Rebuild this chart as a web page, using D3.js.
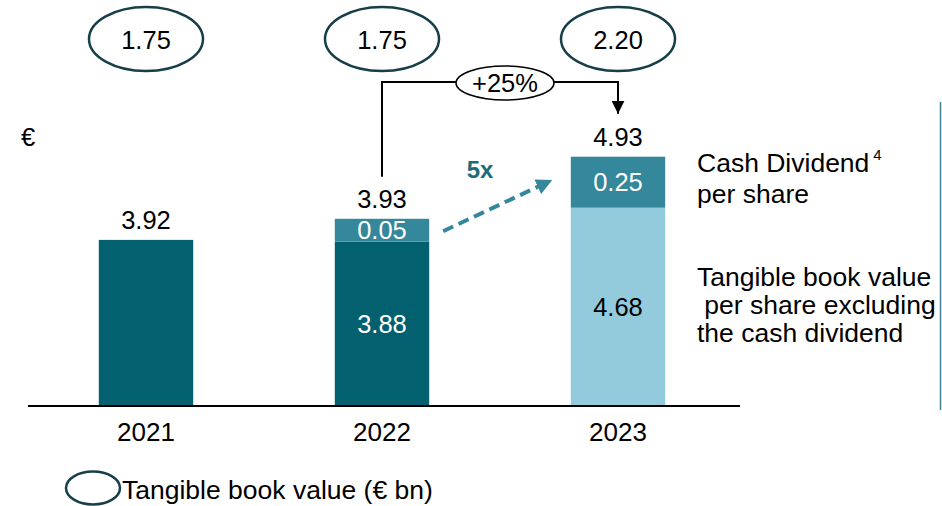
<!DOCTYPE html>
<html>
<head>
<meta charset="utf-8">
<script src="https://cdn.jsdelivr.net/npm/d3@7"></script>
<style>
  body { margin: 0; background: #fff; }
  text { font-family: "Liberation Sans", Arial, sans-serif; }
</style>
</head>
<body>
<div id="chart"></div>
<script>
// values
var years = ["2021", "2022", "2023"];
var tbvExDividend = [3.92, 3.88, 4.68];   // tangible book value per share excl. dividend
var cashDividend = [0, 0.05, 0.25];       // cash dividend per share
var totals = [3.92, 3.93, 4.93];
var tbvBillions = ["1.75", "1.75", "2.20"]; // tangible book value (€ bn)
var growthLabel = "+25%";
var dividendGrowth = "5x";

var width = 942, height = 506;
var dark = "#03606f", mid = "#35879b", light = "#93cbdc", ring = "#173f4a";
var numSize = "25.5px", legSize = "26.5px";

var svg = d3.select("#chart").append("svg")
    .attr("width", width).attr("height", height);

var defs = svg.append("defs");
defs.append("marker")
    .attr("id", "blackHead").attr("viewBox", "0 0 10 10")
    .attr("refX", 10).attr("refY", 5)
    .attr("markerWidth", 13).attr("markerHeight", 13)
    .attr("markerUnits", "userSpaceOnUse")
    .attr("orient", "auto")
    .append("path").attr("d", "M0,0L10,5L0,10Z").attr("fill", "#000");
defs.append("marker")
    .attr("id", "tealHead").attr("viewBox", "0 0 10 10")
    .attr("refX", 9).attr("refY", 5)
    .attr("markerWidth", 16).attr("markerHeight", 16)
    .attr("markerUnits", "userSpaceOnUse")
    .attr("orient", "auto")
    .append("path").attr("d", "M0,0L10,5L0,10Z").attr("fill", mid);

var baseY = 406;
var x = d3.scaleBand().domain(years).range([28, 736])
    .paddingInner(0.6).paddingOuter(0.3);
var y = d3.scaleLinear().domain([0, 4.72]).range([baseY, baseY - 200]);
// dividend slices are drawn enlarged on the slide
var yDiv = d3.scaleSqrt().domain([0, 0.25]).range([0, 51]);

var rows = years.map(function (yr, i) {
    var top0 = y(tbvExDividend[i]);
    return {
        year: yr, base: tbvExDividend[i], div: cashDividend[i], total: totals[i],
        bn: tbvBillions[i], baseTop: top0, divTop: top0 - yDiv(cashDividend[i]),
        baseColor: i < 2 ? dark : light, baseText: i < 2 ? "#fff" : "#000",
        stacked: cashDividend[i] > 0
    };
});
var cx = function (d) { return x(d.year) + x.bandwidth() / 2; };

// bars
var g = svg.append("g").selectAll("g").data(rows).join("g");
g.append("rect")
    .attr("x", d => x(d.year)).attr("width", x.bandwidth())
    .attr("y", d => d.baseTop).attr("height", d => baseY - d.baseTop)
    .attr("fill", d => d.baseColor);
g.filter(d => d.stacked).append("rect")
    .attr("x", d => x(d.year)).attr("width", x.bandwidth())
    .attr("y", d => d.divTop).attr("height", d => d.baseTop - d.divTop)
    .attr("fill", mid);

// value labels
g.filter(d => d.stacked).append("text")
    .attr("x", cx).attr("y", d => (d.baseTop + baseY) / 2 + 9)
    .attr("text-anchor", "middle").style("font-size", numSize)
    .attr("fill", d => d.baseText)
    .text(d => d.base.toFixed(2));
g.filter(d => d.stacked).append("text")
    .attr("x", cx).attr("y", d => (d.divTop + d.baseTop) / 2 + 9)
    .attr("text-anchor", "middle").style("font-size", numSize)
    .attr("fill", "#fff")
    .text(d => d.div.toFixed(2));
g.append("text")
    .attr("x", cx).attr("y", d => d.divTop - 11)
    .attr("text-anchor", "middle").style("font-size", numSize)
    .attr("fill", "#000")
    .text(d => d.total.toFixed(2));

// axis
svg.append("line")
    .attr("x1", 28).attr("x2", 740).attr("y1", baseY).attr("y2", baseY)
    .attr("stroke", "#000").attr("stroke-width", 2);
var xAxis = svg.append("g").attr("transform", "translate(0," + baseY + ")")
    .call(d3.axisBottom(x).tickSize(0).tickPadding(0));
xAxis.select(".domain").remove();
xAxis.selectAll("text").attr("dy", null).attr("y", 35)
    .style("font-size", "26px")
    .style("font-family", "'Liberation Sans', Arial, sans-serif").attr("fill", "#000");

// tangible book value rings
var rg = svg.append("g").selectAll("g").data(rows).join("g")
    .attr("transform", d => "translate(" + cx(d) + ",39)");
rg.append("ellipse").attr("rx", 57).attr("ry", 32)
    .attr("fill", "#fff").attr("stroke", ring).attr("stroke-width", 2.5);
rg.append("text").attr("y", 10).attr("text-anchor", "middle")
    .style("font-size", numSize).text(d => d.bn);

// +25% connector
var r1 = rows[1], r2 = rows[2];
var lineY = 82;
svg.append("path")
    .attr("d", "M" + cx(r1) + "," + (r1.divTop - 42) + "V" + lineY + "H" + cx(r2) + "V" + (r2.divTop - 43))
    .attr("fill", "none").attr("stroke", "#000").attr("stroke-width", 2)
    .attr("marker-end", "url(#blackHead)");
var gx = (cx(r1) + cx(r2)) / 2 + 5;
svg.append("ellipse").attr("cx", gx).attr("cy", lineY + 1).attr("rx", 49).attr("ry", 17)
    .attr("fill", "#fff").attr("stroke", "#000").attr("stroke-width", 1.5);
svg.append("text").attr("x", gx).attr("y", lineY + 10).attr("text-anchor", "middle")
    .style("font-size", numSize).text(growthLabel);

// dividend growth arrow
var ax0 = x(r1.year) + x.bandwidth() + 14, ay0 = (r1.divTop + r1.baseTop) / 2 + 1;
var ax1 = x(r2.year) - 20, ay1 = r2.divTop + 24;
svg.append("line")
    .attr("x1", ax0).attr("y1", ay0).attr("x2", ax1).attr("y2", ay1)
    .attr("stroke", mid).attr("stroke-width", 4).attr("stroke-dasharray", "11,6")
    .attr("marker-end", "url(#tealHead)");
svg.append("text").attr("x", 480).attr("y", 178).attr("text-anchor", "middle")
    .style("font-size", "24px").style("font-weight", "bold").attr("fill", "#1d6b7a")
    .text(dividendGrowth);

// unit
svg.append("text").attr("x", 21).attr("y", 146).style("font-size", numSize).text("€");

// right-hand legend
var leg = svg.append("g").style("font-size", legSize);
var t1 = leg.append("text").attr("x", 697).attr("y", 172);
t1.append("tspan").text("Cash Dividend");
t1.append("tspan").attr("dx", 4).attr("dy", -12).style("font-size", "15px").text("4");
leg.append("text").attr("x", 697).attr("y", 203).text("per share");
leg.selectAll(".tbv")
    .data(["Tangible book value", " per share excluding", "the cash dividend"])
    .join("text").attr("class", "tbv")
    .attr("x", 697).attr("y", (d, i) => 286 + i * 28)
    .style("white-space", "pre").attr("xml:space", "preserve")
    .text(d => d);

svg.append("line").attr("x1", 940.5).attr("x2", 940.5).attr("y1", 102).attr("y2", 410)
    .attr("stroke", "#3f8496").attr("stroke-width", 1.5);

// bottom legend
svg.append("ellipse").attr("cx", 93).attr("cy", 488).attr("rx", 27).attr("ry", 16.5)
    .attr("fill", "none").attr("stroke", ring).attr("stroke-width", 2.5);
svg.append("text").attr("x", 122).attr("y", 499).style("font-size", legSize)
    .text("Tangible book value (€ bn)");
</script>
</body>
</html>
